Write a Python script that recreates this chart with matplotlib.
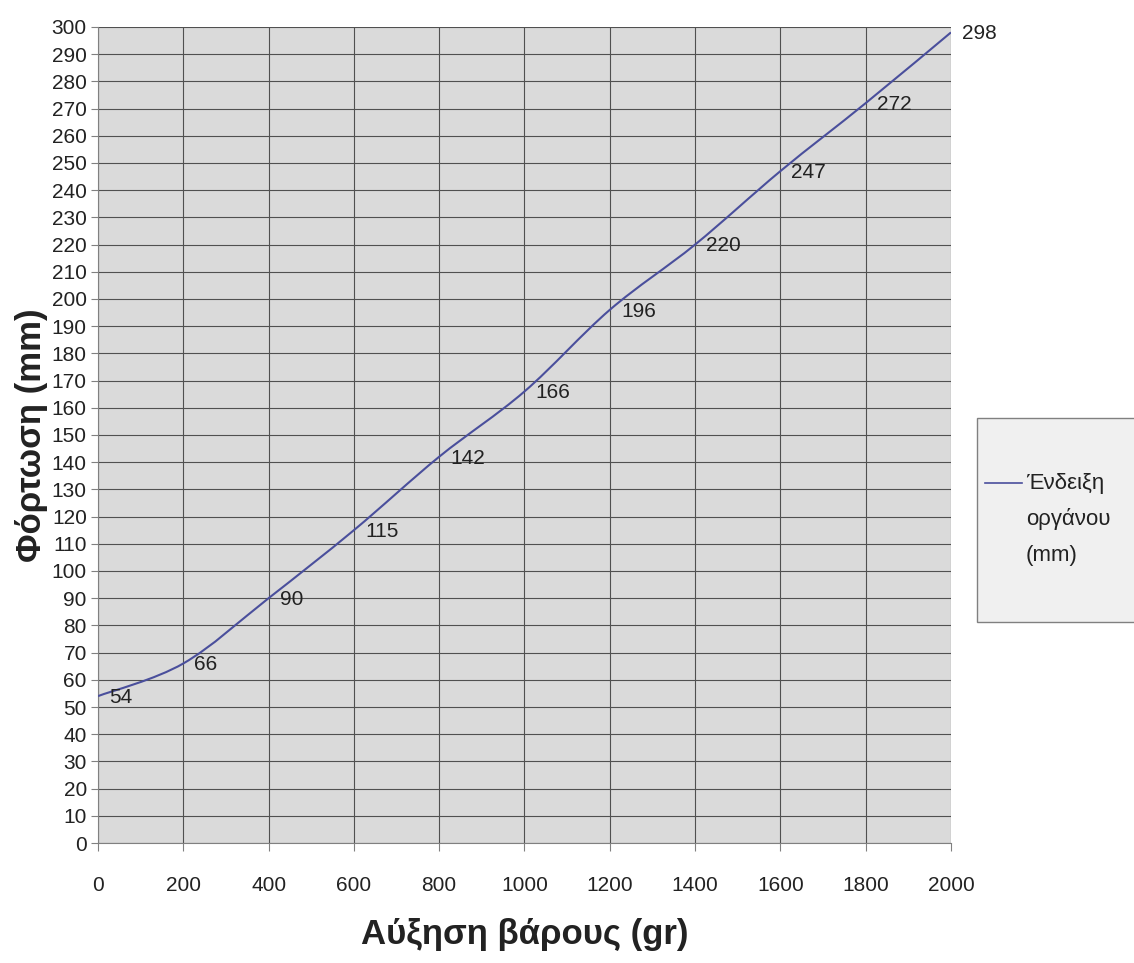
"""Φόρτωση vs αύξηση βάρους, Excel-style smoothed line."""

import matplotlib
matplotlib.use("Agg")
import matplotlib.pyplot as plt
from matplotlib.path import Path
from matplotlib.patches import PathPatch, Rectangle
from matplotlib.lines import Line2D

plt.rcParams['font.family'] = ['Liberation Sans', 'DejaVu Sans']

weight = [0, 200, 400, 600, 800, 1000, 1200, 1400, 1600, 1800, 2000]
reading = [54, 66, 90, 115, 142, 166, 196, 220, 247, 272, 298]
series_name = ["Ένδειξη", "οργάνου", "(mm)"]

LINE = "#4a4f9c"
TXT = "#222222"
W, H = 1134, 963


def smooth_path(xs, ys, t=1 / 6):
    # Catmull-Rom style Bezier segments through the points (like Excel's smoothed line)
    verts = [(xs[0], ys[0])]
    codes = [Path.MOVETO]
    n = len(xs)
    for i in range(n - 1):
        x0, y0 = (xs[i - 1], ys[i - 1]) if i > 0 else (xs[i], ys[i])
        x3, y3 = (xs[i + 2], ys[i + 2]) if i + 2 < n else (xs[i + 1], ys[i + 1])
        c1 = (xs[i] + (xs[i + 1] - x0) * t, ys[i] + (ys[i + 1] - y0) * t)
        c2 = (xs[i + 1] - (x3 - xs[i]) * t, ys[i + 1] - (y3 - ys[i]) * t)
        verts += [c1, c2, (xs[i + 1], ys[i + 1])]
        codes += [Path.CURVE4] * 3
    return Path(verts, codes)


fig = plt.figure(figsize=(W / 100, H / 100), dpi=100)
ax = fig.add_axes([0.0864, 0.1246, 0.7522, 0.8474])
ax.set_facecolor("#dadada")

ax.set_xlim(0, 2000)
ax.set_ylim(0, 300)
ax.set_xticks(range(0, 2001, 200))
ax.set_yticks(range(0, 301, 10))
ax.grid(True, color="#505050", linewidth=0.8)
ax.set_axisbelow(True)
for side in ["top", "right"]:
    ax.spines[side].set_visible(False)
for side in ["left", "bottom"]:
    ax.spines[side].set_color("#808080")
ax.tick_params(axis="y", labelsize=15, length=5, color="#808080", pad=3, labelcolor=TXT)
ax.tick_params(axis="x", labelsize=15, length=6, color="#808080", pad=18, labelcolor=TXT)

ax.add_patch(PathPatch(smooth_path(weight, reading), facecolor="none",
                       edgecolor=LINE, linewidth=1.5, zorder=3))

for x, y in zip(weight, reading):
    ax.annotate(str(y), (x, y), xytext=(8, -1), textcoords="offset points",
                ha="left", va="center", fontsize=15, color=TXT,
                annotation_clip=False, zorder=4)

ax.set_xlabel("Αύξηση βάρους (gr)", fontsize=25, fontweight="bold",
              color=TXT, labelpad=16)
ax.set_ylabel("Φόρτωση (mm)", fontsize=25, fontweight="bold",
              color=TXT, labelpad=3)

# legend box, drawn by hand so it sits against the right edge like the original
fig.add_artist(Rectangle((977 / W, 1 - 622 / H), 200 / W, 204 / H,
                         transform=fig.transFigure, facecolor="#f0f0f0",
                         edgecolor="#808080", linewidth=1.0))
fig.add_artist(Line2D([985 / W, 1022 / W], [1 - 483 / H, 1 - 483 / H],
                      transform=fig.transFigure, color=LINE, linewidth=1.2))
for i, line in enumerate(series_name):
    fig.text(1026 / W, 1 - (483 + 36 * i) / H, line, fontsize=16,
             color=TXT, ha="left", va="center")

fig.savefig("out.png", dpi=100)
